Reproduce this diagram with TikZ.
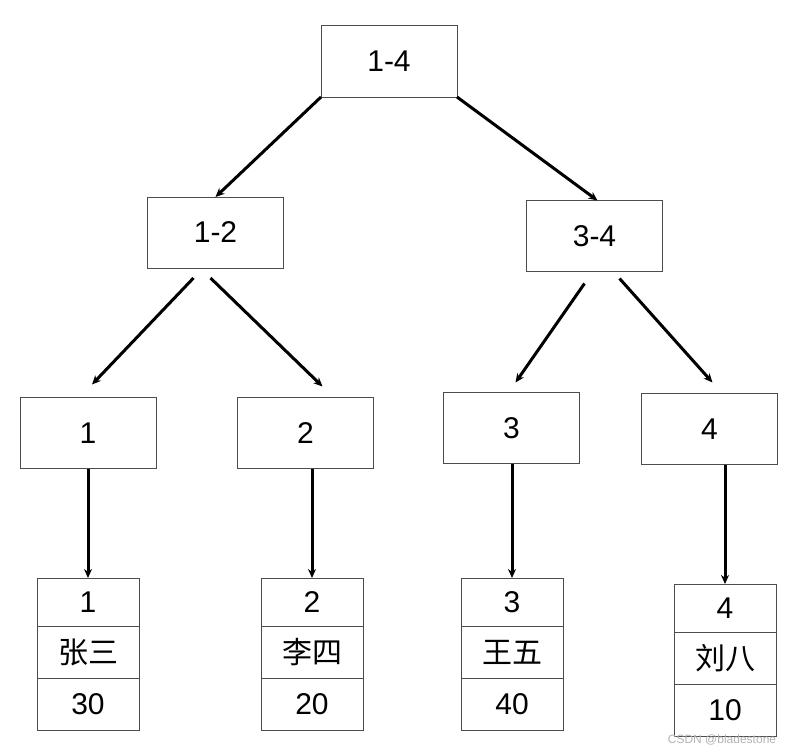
\documentclass[tikz,border=0pt]{standalone}
\usepackage{fontspec}
\setmainfont{Liberation Sans}
\newfontfamily\cjk{Noto Sans CJK SC}
\usepackage{tikz}
\usetikzlibrary{calc, arrows.meta, positioning}

\tikzset{
    treebox/.style={draw=black!70, line width=1pt, minimum width=136pt, minimum height=71pt,
        font=\fontsize{30}{33}\selectfont, outer sep=0pt},
    cell/.style={draw=black!70, line width=1pt, minimum width=102pt,
        font=\fontsize{30}{33}\selectfont, outer sep=0pt, inner sep=0pt},
    arr/.style={line width=3pt, -{Stealth[length=9pt,width=8pt]}}
}

\begin{document}
\begin{tikzpicture}[x=1pt, y=-1pt]
    \useasboundingbox (0,0) rectangle (800,752);

    % segment tree
    \node[treebox] (root) at (389,61.5) {1-4};
    \node[treebox] (left) at (215.5,232.5) {1-2};
    \node[treebox] (right) at (594.5,236) {3-4};
    \node[treebox] (leaf1) at (88,433) {1};
    \node[treebox] (leaf2) at (305.5,433) {2};
    \node[treebox] (leaf3) at (511.5,428) {3};
    \node[treebox] (leaf4) at (709.5,429) {4};

    % records
    \foreach \i/\x/\y/\who/\age in {1/88/578/张三/30, 2/312/578/李四/20, 3/512/578/王五/40, 4/725/584/刘八/10} {
        \node[cell, minimum height=48pt, anchor=north] (id\i) at (\x,\y) {\i};
        \node[cell, minimum height=52pt, below=0pt of id\i] (name\i) {\cjk \who};
        \node[cell, minimum height=52pt, below=0pt of name\i] (age\i) {\age};
    }

    \draw[arr] (root.south west) -- (left.north);
    \draw[arr] (root.south east) -- ($(right.north)+(3,0)$);
    \draw[arr] ($(left.south)+(-22,10)$) -- ($(leaf1.north)+(4,-13)$);
    \draw[arr] ($(left.south)+(-5,10)$) -- ($(leaf2.north)+(17,-11)$);
    \draw[arr] ($(right.south)+(-10,12)$) -- ($(leaf3.north)+(4,-10)$);
    \draw[arr] ($(right.south)+(25,7)$) -- ($(leaf4.north)+(3,-11)$);

    \foreach \i in {1,...,4}
        \draw[arr] (leaf\i.south -| id\i.north) -- (id\i.north);

    \node[text=black!30, font=\fontsize{12}{14}\selectfont] (mark) at (722,740) {CSDN @bladestone};
\end{tikzpicture}
\end{document}
